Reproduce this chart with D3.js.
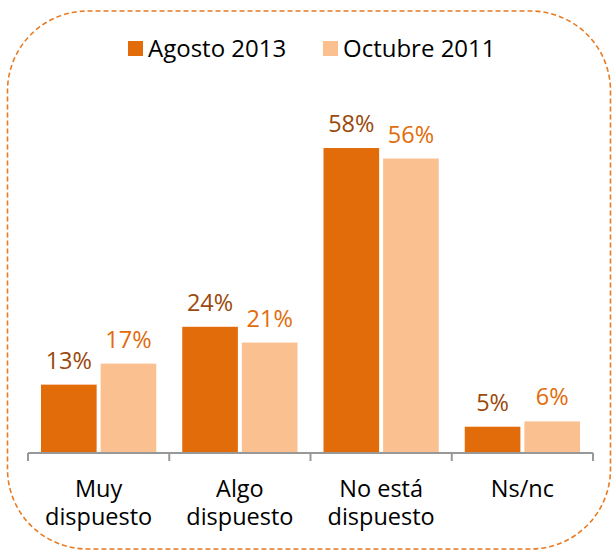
<!DOCTYPE html>
<html><head><meta charset="utf-8">
<script src="https://cdn.jsdelivr.net/npm/d3@7"></script>
<style>body{margin:0;background:#fff}svg{display:block}</style>
</head><body>
<svg id="c" width="612" height="552"></svg>
<script>
const categories = [["Muy","dispuesto"],["Algo","dispuesto"],["No está","dispuesto"],["Ns/nc"]];
const seriesNames = ["Agosto 2013","Octubre 2011"];
const agosto2013 = [13,24,58,5];
const octubre2011 = [17,21,56,6];
const barColors = ["#e36c0a","#fac090"];
const labelColors = ["#9a4a0c","#e36c0a"];
const FONT = "'Open Sans', Lato, sans-serif";

const svg = d3.select("#c");
// dashed rounded frame
svg.append("rect").attr("x",7.5).attr("y",11).attr("width",603).attr("height",538)
  .attr("rx",80).attr("ry",80).attr("fill","none").attr("stroke","#e87a22")
  .attr("stroke-width",1.6).attr("stroke-dasharray","5,3");

const baseY = 453, left = 28, right = 593;
const x0 = d3.scaleBand().domain(d3.range(categories.length)).range([left,right]).paddingInner(0).paddingOuter(0);
const x1 = d3.scaleBand().domain([0,1]).range([13, x0.bandwidth()-13]).paddingInner(0.067);
const y = d3.scaleLinear().domain([0,58]).range([baseY,148]);

const data = categories.map((c,i)=>({i, vals:[agosto2013[i], octubre2011[i]]}));
const g = svg.append("g");
const grp = g.selectAll("g.cat").data(data).join("g").attr("transform",d=>`translate(${x0(d.i)},0)`);
grp.selectAll("rect").data(d=>d.vals.map((v,s)=>({v,s}))).join("rect")
  .attr("x",d=>x1(d.s)).attr("width",x1.bandwidth())
  .attr("y",d=>y(d.v)).attr("height",d=>baseY-y(d.v)).attr("fill",d=>barColors[d.s]);
grp.selectAll("text.val").data(d=>d.vals.map((v,s)=>({v,s}))).join("text").attr("class","val")
  .attr("x",d=>x1(d.s)+x1.bandwidth()/2).attr("y",d=>y(d.v)-16)
  .attr("text-anchor","middle").attr("font-family",FONT).attr("font-size",23.5)
  .attr("fill",d=>labelColors[d.s]).text(d=>d.v+"%");

// axis
const axis = d3.axisBottom(x0).tickSize(0).tickFormat("");
const ax = svg.append("g").attr("transform",`translate(0,${baseY})`).call(axis);
ax.select(".domain").attr("stroke","#989898").attr("stroke-width",2).attr("d",`M${left},0H${right}`);
const boundaries = d3.range(categories.length+1).map(i=>left + i*x0.step());
ax.selectAll("line.tk").data(boundaries).join("line").attr("class","tk")
  .attr("x1",d=>d).attr("x2",d=>d).attr("y1",0).attr("y2",8)
  .attr("stroke","#989898").attr("stroke-width",2);
// category labels
const lab = svg.append("g").selectAll("text").data(categories).join("text")
  .attr("text-anchor","middle").attr("font-family",FONT).attr("font-size",23.5).attr("fill","#000")
  .attr("transform",(d,i)=>`translate(${x0(i)+x0.bandwidth()/2},0)`);
lab.selectAll("tspan").data(d=>d).join("tspan").attr("x",0).attr("y",(d,j)=>497+j*28).text(d=>d);

// legend
const legX = [128,323];
const leg = svg.append("g").selectAll("g").data(seriesNames).join("g")
  .attr("transform",(d,i)=>`translate(${legX[i]},0)`);
leg.append("rect").attr("x",0).attr("y",41).attr("width",15).attr("height",15).attr("fill",(d,i)=>barColors[i]);
leg.append("text").attr("x",20).attr("y",57).attr("font-family",FONT).attr("font-size",24).attr("fill","#000").text(d=>d);
</script>
</body></html>
